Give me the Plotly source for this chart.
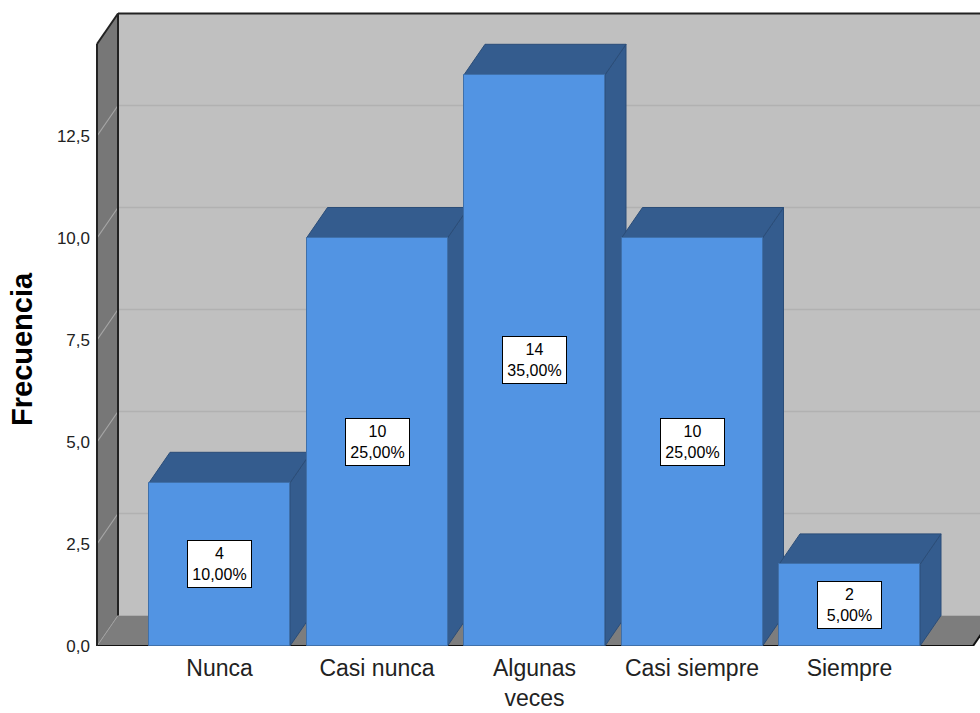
import plotly.graph_objects as go

# --- data -------------------------------------------------------------
categorias = ["Nunca", "Casi nunca", "Algunas veces", "Casi siempre", "Siempre"]
etiquetas_x = ["Nunca", "Casi nunca", "Algunas<br>veces", "Casi siempre", "Siempre"]
frecuencias = [4, 10, 14, 10, 2]
marcas_y = [0, 2.5, 5, 7.5, 10, 12.5]
textos_y = ["0,0", "2,5", "5,0", "7,5", "10,0", "12,5"]

total = sum(frecuencias)
porcentajes = [f / total * 100 for f in frecuencias]

# --- page / pseudo-3D geometry ------------------------------------------
W, H = 980, 713
ML, MR, MT, MB = 95, 0, 12, 67
PX_CAT = 157.5          # pixels between bar centres
PX_UNIT = 40.8          # pixels per unit of frequency
FIRST_CENTER = 219.5    # page x of first bar centre
PW, PH = W - ML - MR, H - MT - MB
X0 = (ML - FIRST_CENTER) / PX_CAT
X1 = X0 + PW / PX_CAT
Y1 = PH / PX_UNIT

DX = 21 / PX_CAT        # depth offset along x
DY = 30.5 / PX_UNIT     # depth offset along y
BAR_W = 141 / PX_CAT
L = (97 - FIRST_CENTER) / PX_CAT       # front edge of left wall
RF = (973 - FIRST_CENTER) / PX_CAT     # front right end of floor
TOP = (646 - 44) / PX_UNIT             # wall height (front)

BLUE = "#5294e3"
BLUE_DARK = "#345c8e"
BACK = "#c0c0c0"
SIDE_WALL = "#777777"
FLOOR = "#7d7d7d"

FONT = "Liberation Sans, Arial, sans-serif"


def poly(pts, fill, line_color=None, width=0):
    d = "M " + " L ".join(f"{x},{y}" for x, y in pts) + " Z"
    return dict(type="path", path=d, xref="x", yref="y", layer="below",
                fillcolor=fill,
                line=dict(color=line_color or fill, width=width))


def seg(p, q, color, width=1):
    return dict(type="line", xref="x", yref="y", layer="below",
                x0=p[0], y0=p[1], x1=q[0], y1=q[1],
                line=dict(color=color, width=width))


shapes = []
# back wall
shapes.append(poly([(L + DX, DY), (X1 + 1, DY), (X1 + 1, TOP + DY), (L + DX, TOP + DY)], BACK))
for v in marcas_y[1:]:
    shapes.append(seg((L + DX, v + DY), (X1 + 1, v + DY), "#b1b1b1", 1.5))
# left wall
shapes.append(poly([(L, 0), (L + DX, DY), (L + DX, TOP + DY), (L, TOP)], SIDE_WALL))
for v in marcas_y[1:]:
    shapes.append(seg((L, v), (L + DX, v + DY), "#a6a6a6", 1.2))
# floor
shapes.append(poly([(L, 0), (RF, 0), (RF + DX, DY), (L + DX, DY)], FLOOR))
shapes.append(seg((L, 0), (L + DX, DY), "#a0a0a0", 1))
# frame edges
shapes.append(seg((L, 0), (RF, 0), "#111111", 2))
shapes.append(seg((RF, 0), (RF + DX, DY), "#111111", 2))
shapes.append(seg((L, 0), (L, TOP), "#222222", 2))
shapes.append(seg((L, TOP), (L + DX, TOP + DY), "#222222", 2))
shapes.append(seg((L + DX, DY), (L + DX, TOP + DY), "#222222", 2))
shapes.append(seg((L + DX, TOP + DY), (X1 + 1, TOP + DY), "#222222", 2))

# top and side faces of every bar
for i, v in enumerate(frecuencias):
    a, b = i - BAR_W / 2, i + BAR_W / 2
    shapes.append(poly([(b, 0), (b + DX, DY), (b + DX, v + DY), (b, v)],
                       BLUE_DARK, "#2b4d78", 1))
    shapes.append(poly([(a, v), (b, v), (b + DX, v + DY), (a + DX, v + DY)],
                       BLUE_DARK, "#2b4d78", 1))

fig = go.Figure()
fig.add_trace(go.Bar(
    x=list(range(len(categorias))), y=frecuencias, width=BAR_W,
    marker=dict(color=BLUE, line=dict(color="#3f70aa", width=1)),
    hovertext=categorias, hoverinfo="text+y", showlegend=False,
))

annotations = []
for i, (v, p) in enumerate(zip(frecuencias, porcentajes)):
    pct = f"{p:.2f}".replace(".", ",") + "%"
    annotations.append(dict(
        x=i, y=v / 2, xref="x", yref="y", text=f"{v}<br>{pct}",
        showarrow=False, bgcolor="white", bordercolor="black", borderwidth=1,
        borderpad=4, width=55, align="center",
        font=dict(family=FONT, size=16, color="black"),
    ))

annotations.append(dict(
    text="<b>Frecuencia</b>", textangle=-90, showarrow=False,
    xref="paper", yref="paper",
    x=(22 - ML) / PW, y=(H - MB - 349) / PH,
    xanchor="center", yanchor="middle",
    font=dict(family=FONT, size=29, color="black"),
))

fig.update_layout(
    width=W, height=H,
    margin=dict(l=ML, r=MR, t=MT, b=MB, pad=0, autoexpand=False),
    paper_bgcolor="white", plot_bgcolor="white",
    shapes=shapes, annotations=annotations,
    bargap=0,
    xaxis=dict(range=[X0, X1], tickvals=list(range(len(categorias))),
               ticktext=etiquetas_x, showgrid=False, zeroline=False,
               showline=False, ticks="", fixedrange=True, automargin=False,
               tickfont=dict(family=FONT, size=23, color="#222222"),
               ticklabelstandoff=6),
    yaxis=dict(range=[0, Y1], tickvals=marcas_y, ticktext=textos_y,
               showgrid=False, zeroline=False, showline=False, ticks="",
               fixedrange=True, automargin=False,
               tickfont=dict(family=FONT, size=17, color="#222222"),
               ticklabelstandoff=4),
    font=dict(family=FONT),
)

fig.write_html("out.html")
